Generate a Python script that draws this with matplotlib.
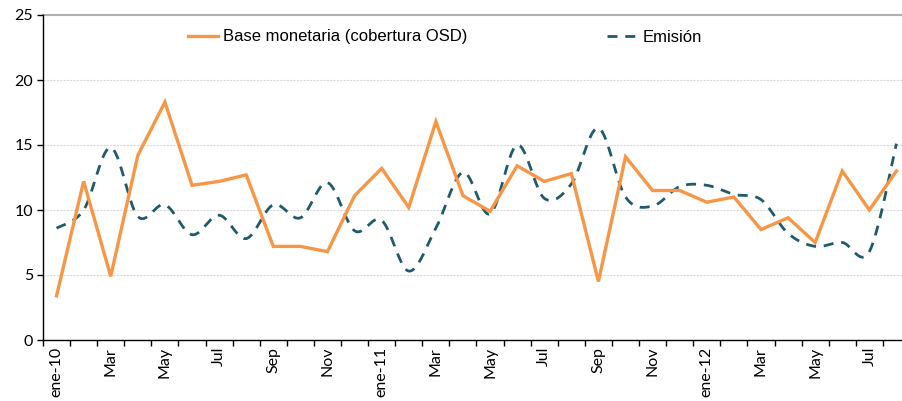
import numpy as np
import matplotlib
matplotlib.use("Agg")
import matplotlib.pyplot as plt
from matplotlib.lines import Line2D

months = ["ene-10", "Feb", "Mar", "Abr", "May", "Jun", "Jul", "Ago", "Sep", "Oct", "Nov", "Dic",
          "ene-11", "Feb", "Mar", "Abr", "May", "Jun", "Jul", "Ago", "Sep", "Oct", "Nov", "Dic",
          "ene-12", "Feb", "Mar", "Abr", "May", "Jun", "Jul", "Ago"]
base_monetaria = [3.4, 12.2, 4.9, 14.2, 18.3, 11.9, 12.2, 12.7, 7.2, 7.2, 6.8, 11.1,
                  13.2, 10.2, 16.8, 11.1, 9.9, 13.4, 12.2, 12.8, 4.5, 14.1, 11.5, 11.5,
                  10.6, 11.0, 8.5, 9.4, 7.5, 13.0, 10.0, 13.0]
emision = [8.6, 10.0, 14.8, 9.5, 10.4, 8.1, 9.6, 7.8, 10.4, 9.4, 12.1, 8.4,
           9.2, 5.3, 8.6, 12.9, 9.7, 15.0, 10.9, 12.0, 16.3, 11.0, 10.3, 11.8,
           11.9, 11.2, 10.8, 8.2, 7.2, 7.5, 6.8, 15.1]
label_base = "Base monetaria (cobertura OSD)"
label_emision = "Emisión"

ORANGE = "#F79646"
TEAL = "#215B6A"


def smooth(x, y, n=20, tension=0.5):
    """Catmull-Rom style smoothing used only for rendering the line (like Excel's smoothed line)."""
    x = np.asarray(x, float)
    y = np.asarray(y, float)
    px = np.concatenate([[x[0]], x, [x[-1]]])
    py = np.concatenate([[y[0]], y, [y[-1]]])
    xs, ys = [], []
    for i in range(1, len(px) - 2):
        p0x, p1x, p2x, p3x = px[i - 1], px[i], px[i + 1], px[i + 2]
        p0y, p1y, p2y, p3y = py[i - 1], py[i], py[i + 1], py[i + 2]
        m1x, m1y = tension * (p2x - p0x), tension * (p2y - p0y)
        m2x, m2y = tension * (p3x - p1x), tension * (p3y - p1y)
        t = np.linspace(0, 1, n, endpoint=False)
        h00 = 2 * t**3 - 3 * t**2 + 1
        h10 = t**3 - 2 * t**2 + t
        h01 = -2 * t**3 + 3 * t**2
        h11 = t**3 - t**2
        xs.append(h00 * p1x + h10 * m1x + h01 * p2x + h11 * m2x)
        ys.append(h00 * p1y + h10 * m1y + h01 * p2y + h11 * m2y)
    xs.append([x[-1]])
    ys.append([y[-1]])
    return np.concatenate(xs), np.concatenate(ys)


fig = plt.figure(figsize=(9.03, 4.01), dpi=100)
ax = fig.add_axes([43 / 903, 1 - 340 / 401, 867 / 903, 325 / 401])

x = np.arange(len(months))
sx, sy = smooth(x, emision)
ax.plot(sx, sy, color=TEAL, lw=2.0, dashes=(3.6, 2.8), dash_capstyle="butt", zorder=3)
ax.plot(x, base_monetaria, color=ORANGE, lw=2.4, solid_joinstyle="miter", zorder=4)

ax.set_xlim(-0.5, len(months) - 0.5)
ax.set_ylim(0, 25)
ax.set_yticks([0, 5, 10, 15, 20, 25])
for v in [5, 10, 15, 20]:
    ax.axhline(v, color="#D9D9D9", lw=0.8, ls=(0, (2, 1)), zorder=1)
ax.axhline(25, color="#B0B0B0", lw=1.5, zorder=1, clip_on=False)

for s in ["top", "right"]:
    ax.spines[s].set_visible(False)
ax.spines["left"].set_color("#000000")
ax.spines["bottom"].set_color("#000000")
ax.spines["left"].set_linewidth(1.0)
ax.spines["bottom"].set_linewidth(1.0)

ax.set_xticks(np.arange(-0.5, len(months) + 0.5, 1.0))
ax.set_xticklabels([])
ax.tick_params(axis="x", which="major", length=4, width=1, direction="out")
ax.set_xticks(x[::2], minor=True)
ax.set_xticklabels(months[::2], minor=True, rotation=90, fontsize=11.5, family="Lato")
ax.tick_params(axis="x", which="minor", length=0, pad=5)
ax.tick_params(axis="y", length=4, width=1, direction="out", labelsize=11.5, pad=3)
for lab in ax.get_yticklabels():
    lab.set_family("Lato")

handles = [Line2D([], [], color=ORANGE, lw=2.4),
           Line2D([], [], color=TEAL, lw=2.0, dashes=(3.6, 2.8))]
leg = fig.legend(handles, [label_base, label_emision], loc="center left",
                 bbox_to_anchor=(188 / 903, 1 - 37 / 401), ncol=2, frameon=False,
                 prop={"family": "Liberation Sans", "size": 12},
                 handlelength=1.8, handletextpad=0.3, columnspacing=8.4,
                 borderpad=0, borderaxespad=0)

fig.savefig("out.png", dpi=100, facecolor="white")
